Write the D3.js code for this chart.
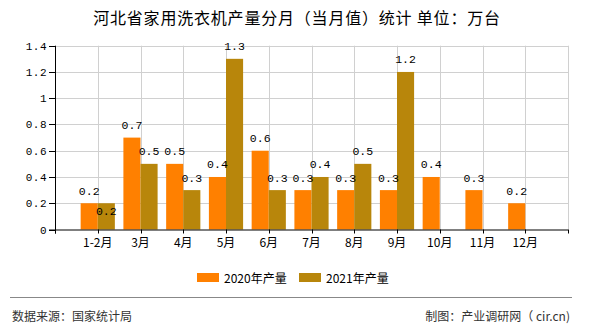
<!DOCTYPE html>
<html><head><meta charset="utf-8">
<script src="https://cdn.jsdelivr.net/npm/d3@7/dist/d3.min.js"></script>
<style>body{margin:0;background:#fff}svg{display:block}</style>
</head><body>
<svg id="c" width="590" height="330"></svg>
<script>
const categories = ["1-2月","3月","4月","5月","6月","7月","8月","9月","10月","11月","12月"];
const series2020 = [0.2,0.7,0.5,0.4,0.6,0.3,0.3,0.3,0.4,0.3,0.2];
const series2021 = [0.2,0.5,0.3,1.3,0.3,0.4,0.5,1.2,null,null,null];
const seriesNames = ["2020年产量","2021年产量"];
const yTicks = [0,0.2,0.4,0.6,0.8,1,1.2,1.4];
const colors = ["#FF8000","#B8860B"];

const svg = d3.select("#c");
const L=55,R=568,T=45.7,B=229.5;
const domain = ["__s"].concat(categories).concat(["__e"]);
const x = d3.scalePoint().domain(domain).range([L,R]);
const y = d3.scaleLinear().domain([0,1.4]).range([B,T]);
const bw = x.step()*0.4;

svg.append("text").attr("x",297).attr("y",24).attr("text-anchor","middle")
  .attr("font-family","'Noto Sans CJK SC',sans-serif").attr("font-size",16).attr("letter-spacing",0.8).attr("fill","#000")
  .text("河北省家用洗衣机产量分月（当月值）统计 单位：万台");

// grid
const g = svg.append("g");
g.selectAll(".hg").data(yTicks.filter(d=>d>0)).enter().append("line")
  .attr("x1",L).attr("x2",R).attr("y1",d=>Math.round(y(d))+0.5).attr("y2",d=>Math.round(y(d))+0.5)
  .attr("stroke","#d0d0d0").attr("stroke-width",1);
g.selectAll(".vg").data(categories.concat(["__e"])).enter().append("line")
  .attr("x1",d=>Math.round(x(d))+0.5).attr("x2",d=>Math.round(x(d))+0.5).attr("y1",T).attr("y2",B)
  .attr("stroke","#d0d0d0").attr("stroke-width",1);

// bars
const data = categories.map((c,i)=>({c, v:[series2020[i],series2021[i]]}));
const bars = svg.append("g");
data.forEach(d=>{
  d.v.forEach((v,k)=>{
    if(v==null) return;
    const x0 = k===0 ? x(d.c)-bw : x(d.c);
    bars.append("rect").attr("x",x0).attr("width",bw).attr("y",y(v)).attr("height",B-y(v)).attr("fill",colors[k]);
  });
});
// labels
data.forEach(d=>{
  const ys=[];
  d.v.forEach((v,k)=>{
    if(v==null) return;
    let ly = y(v)-8.5;
    if(k===1 && d.v[0]!=null && Math.abs(ly-ys[0])<12) ly += 20;
    ys[k]=ly;
    const cx = k===0 ? x(d.c)-bw/2 : x(d.c)+bw/2;
    bars.append("text").attr("x",cx).attr("y",ly).attr("text-anchor","middle")
      .attr("font-family","'Liberation Mono',monospace").attr("font-size",11.5).attr("fill","#000")
      .text(v);
  });
});

// axes
const ax = svg.append("g").attr("stroke","#000");
ax.append("line").attr("x1",L+0.5).attr("x2",L+0.5).attr("y1",T).attr("y2",B+4);
ax.append("line").attr("x1",L-6).attr("x2",R).attr("y1",B+0.5).attr("y2",B+0.5);
ax.selectAll(".yt").data(yTicks).enter().append("line")
  .attr("x1",L-6).attr("x2",L).attr("y1",d=>Math.round(y(d))+0.5).attr("y2",d=>Math.round(y(d))+0.5);
ax.selectAll(".xt").data(domain).enter().append("line")
  .attr("x1",d=>Math.round(x(d))+0.5).attr("x2",d=>Math.round(x(d))+0.5).attr("y1",B).attr("y2",B+4);

svg.append("g").selectAll("text").data(yTicks).enter().append("text")
  .attr("x",47).attr("y",d=>y(d)+4).attr("text-anchor","end")
  .attr("font-family","'Liberation Mono',monospace").attr("font-size",11).attr("letter-spacing",0.5)
  .text(d=>d);
svg.append("g").selectAll("text").data(categories).enter().append("text")
  .attr("x",d=>x(d)).attr("y",247).attr("text-anchor","middle")
  .attr("font-family","'Noto Sans CJK SC',sans-serif").attr("font-size",12)
  .text(d=>d);

// legend
const lg = svg.append("g");
[197,299].forEach((lx,k)=>{
  lg.append("rect").attr("x",lx).attr("y",273).attr("width",22).attr("height",9).attr("fill",colors[k]);
  lg.append("text").attr("x",lx+27).attr("y",283).attr("font-family","'Noto Sans CJK SC',sans-serif")
    .attr("font-size",12).attr("fill","#000").text(seriesNames[k]);
});

// footer
svg.append("line").attr("x1",10).attr("x2",572).attr("y1",297.5).attr("y2",297.5).attr("stroke","#888");
svg.append("text").attr("x",12).attr("y",321).attr("font-family","'Noto Sans CJK SC',sans-serif")
  .attr("font-size",12).attr("fill","#333").text("数据来源：国家统计局");
svg.append("text").attr("x",570).attr("y",321).attr("text-anchor","end").attr("font-family","'Noto Sans CJK SC',sans-serif")
  .attr("font-size",12).attr("fill","#333").text("制图：产业调研网（ cir.cn)");
</script>
</body></html>
